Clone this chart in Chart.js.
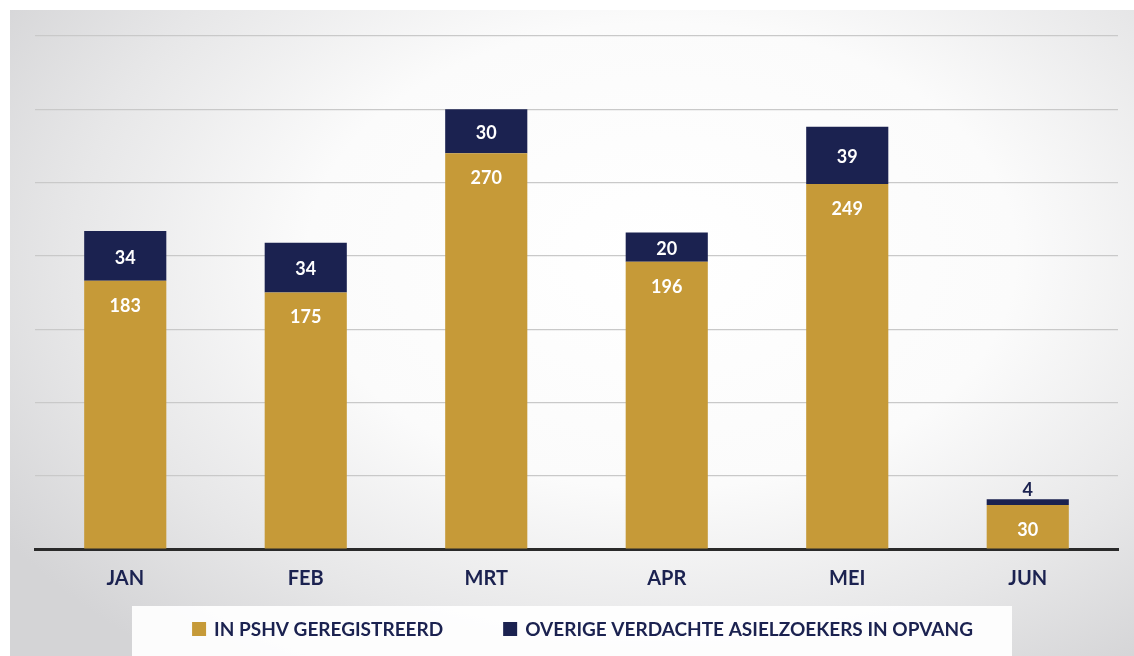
<!DOCTYPE html>
<html>
<head>
<meta charset="utf-8">
<script src="https://cdn.jsdelivr.net/npm/chart.js@4"></script>
<style>
  html, body { margin: 0; padding: 0; background: #fff; }
  #panel {
    position: absolute; left: 10px; top: 10px; width: 1124px; height: 646px;
    background:
      radial-gradient(ellipse 70% 80% at 58% 38%, #ffffff 0%, #fbfbfb 45%, #e7e7e8 75%, #d4d4d6 100%);
  }
  #wrap { position: absolute; left: 0; top: 0; width: 1134px; height: 656px; }
</style>
</head>
<body>
<div id="panel"></div>
<div id="wrap"><canvas id="asielChart"></canvas></div>
<script>
// maanden en aantallen
var months = ['JAN', 'FEB', 'MRT', 'APR', 'MEI', 'JUN'];
var geregistreerd = [183, 175, 270, 196, 249, 30];
var overige = [34, 34, 30, 20, 39, 4];
var yTicks = [0, 50, 100, 150, 200, 250, 300, 350];

var gold = 'rgb(198, 154, 56)';
var navy = 'rgb(27, 34, 80)';
var FONT = 'Lato, "Open Sans", sans-serif';

// witte waarden in de balken, kleine waarden boven de balk
var valueLabels = {
  id: 'valueLabels',
  afterDatasetsDraw: function (chart) {
    var ctx = chart.ctx;
    ctx.save();
    ctx.font = 'bold 18px ' + FONT;
    ctx.textAlign = 'center';
    ctx.textBaseline = 'middle';
    chart.data.datasets.forEach(function (ds, di) {
      var meta = chart.getDatasetMeta(di);
      meta.data.forEach(function (bar, i) {
        var v = ds.data[i];
        var h = bar.base - bar.y;
        if (di === 0) {
          ctx.fillStyle = '#fff';
          ctx.fillText(v, bar.x, bar.y + 25);
        } else if (h < 20) {
          ctx.fillStyle = navy;
          ctx.fillText(v, bar.x, bar.y - 9);
        } else {
          ctx.fillStyle = '#fff';
          ctx.fillText(v, bar.x, (bar.y + bar.base) / 2 + 2);
        }
      });
    });
    ctx.restore();
  }
};

// legenda onder de grafiek, op een wit vlak
var bottomLegend = {
  id: 'bottomLegend',
  afterDraw: function (chart) {
    var ctx = chart.ctx;
    var y = 629, box = 14, gapText = 8, gapItem = 60;
    ctx.save();
    ctx.fillStyle = 'rgba(255,255,255,0.92)';
    ctx.fillRect(132, 606, 880, 50);
    ctx.font = 'bold 19px ' + FONT;
    ctx.textBaseline = 'middle';
    ctx.textAlign = 'left';
    var items = chart.data.datasets.map(function (ds) {
      return { text: ds.label, color: ds.backgroundColor, w: ctx.measureText(ds.label).width };
    });
    var total = items.reduce(function (s, it) { return s + box + gapText + it.w; }, 0) + gapItem * (items.length - 1);
    var x = (chart.chartArea.left + chart.chartArea.right) / 2 - total / 2 + 6;
    items.forEach(function (it) {
      ctx.fillStyle = it.color;
      ctx.fillRect(x, y - box / 2, box, box);
      x += box + gapText;
      ctx.fillStyle = navy;
      ctx.fillText(it.text, x, y + 1);
      x += it.w + gapItem;
    });
    ctx.restore();
  }
};

var ctx = document.getElementById('asielChart').getContext('2d');
var chart = new Chart(ctx, {
  type: 'bar',
  data: {
    labels: months,
    datasets: [{
      label: 'IN PSHV GEREGISTREERD',
      data: geregistreerd,
      backgroundColor: gold,
      borderWidth: 0
    }, {
      label: 'OVERIGE VERDACHTE ASIELZOEKERS IN OPVANG',
      data: overige,
      backgroundColor: navy,
      borderWidth: 0
    }]
  },
  options: {
    responsive: true,
    maintainAspectRatio: false,
    animation: false,
    categoryPercentage: 1,
    barPercentage: 0.455,
    layout: { padding: { left: 35, right: 16, top: 36, bottom: 47 } },
    plugins: {
      tooltip: { enabled: false },
      legend: { display: false }
    },
    scales: {
      x: {
        stacked: true,
        grid: { display: false, drawTicks: false },
        border: { display: true, color: '#2a2a2a', width: 3 },
        ticks: {
          color: navy,
          padding: 18,
          font: { family: FONT, size: 20, weight: 'bold' }
        }
      },
      y: {
        stacked: true,
        min: 0,
        max: 350,
        afterBuildTicks: function (scale) {
          scale.ticks = yTicks.map(function (v) { return { value: v }; });
        },
        ticks: { display: false },
        border: { display: false },
        grid: { color: '#c9c9c9', lineWidth: 1.2, drawTicks: false }
      }
    }
  },
  plugins: [valueLabels, bottomLegend]
});
</script>
</body>
</html>
